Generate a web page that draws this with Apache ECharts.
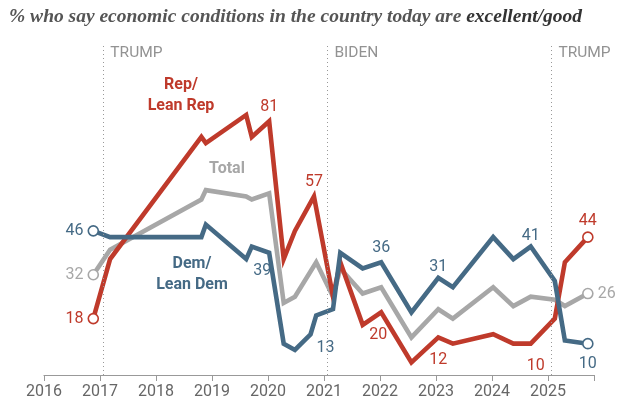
<!DOCTYPE html>
<html>
<head>
<meta charset="utf-8">
<script src="https://cdn.jsdelivr.net/npm/echarts@6/dist/echarts.min.js"></script>
<style>
  html, body { margin: 0; padding: 0; background: #fff; }
  #chart { width: 640px; height: 400px; }
</style>
</head>
<body>
<div id="chart"></div>
<script>
// survey dates as decimal years
const dates = [2016.88, 2017.18, 2018.81, 2018.89, 2019.61, 2019.71, 2020.02, 2020.28, 2020.48,
  2020.76, 2020.82, 2020.86, 2021.16, 2021.29, 2021.69, 2022.02, 2022.56, 2023.04, 2023.30,
  2024.02, 2024.38, 2024.69, 2025.12, 2025.30, 2025.71];
const rep = [18, 37, 76, 74, 83, 76, 81, 37, 46, null, 57, null, 25, 36, 16, 20, 4, 12, 10, 13, 10, 10, 18, 36, 44];
const total = [32, 40, 56, 59, 57, 56, 58, 23, 25, null, null, 36, 25, 34, 26, 28, 12, 21, 18, 28, 22, 25, 24, 22, 26];
const dem = [46, 44, 44, 48, 37, 41, 39, 10, 8, 13, null, 19, 21, 39, 34, 36, 20, 31, 28, 44, 37, 41, 30, 11, 10];
const years = [2016, 2017, 2018, 2019, 2020, 2021, 2022, 2023, 2024, 2025];
const presidents = ["TRUMP", "BIDEN", "TRUMP"];
const inaugurations = [2017.06, 2021.06, 2025.06];

const RED = "#bf3a2b";
const BLUE = "#456a85";
const GRAY = "#a7a7a7";
const NUM_FONT = "Roboto";

// which points get a number label, and where
const repLabels = { 0: ["left"], 6: ["top"], 10: ["top"], 15: ["bottom", [-3, 9]], 17: ["bottom", [0, 9]], 21: ["bottom", [5, 8]], 24: ["top", [0, 2]] };
const totalLabels = { 0: ["left"], 24: ["right"] };
const demLabels = { 0: ["left"], 6: ["bottom", [-7, 4]], 9: ["right", [0, 14]], 15: ["top"], 17: ["top", [0, 3]], 21: ["top", [0, 3]], 24: ["bottom", [0, 3]] };

function build(vals, labels, color) {
  const out = [];
  const last = vals.length - 1;
  vals.forEach((v, i) => {
    if (v == null) return;
    const item = { value: [dates[i], v] };
    const end = i === 0 || i === last;
    item.symbolSize = end ? 10 : 0;
    if (labels[i]) {
      item.label = {
        show: true,
        position: labels[i][0],
        offset: labels[i][1] || [0, 0],
        distance: end ? 4 : 6,
      };
    }
    out.push(item);
  });
  return {
    type: "line",
    data: out,
    symbol: "circle",
    showSymbol: true,
    lineStyle: { color, width: 4.6, join: "miter" },
    itemStyle: { color: "#fff", borderColor: color, borderWidth: 1.6 },
    label: { show: false, color, fontFamily: NUM_FONT, fontSize: 16, formatter: (p) => p.value[1] },
    emphasis: { disabled: true },
  };
}

const chart = echarts.init(document.getElementById("chart"));

const grayS = build(total, totalLabels, GRAY);
grayS.markLine = {
  silent: true,
  symbol: "none",
  label: { show: false },
  lineStyle: { color: "#999", type: [1, 3], width: 1 },
  data: inaugurations.map((d) => ({ xAxis: d })),
};

const nameFont = "bold 16px Roboto";

chart.setOption({
  animation: false,
  title: {
    left: 4,
    top: 2,
    text: "{a|% who say economic conditions in the country today are }{b|excellent/good}",
    textStyle: {
      rich: {
        a: { fontFamily: "Liberation Serif", fontStyle: "italic", fontSize: 19.5, color: "#555" },
        b: { fontFamily: "Liberation Serif", fontStyle: "italic", fontWeight: "bold", fontSize: 19.5, color: "#333" },
      },
    },
  },
  grid: { left: 44, right: 46, top: 46, bottom: 22 },
  xAxis: {
    type: "value",
    min: 2016,
    max: 2025.82,
    interval: 1,
    axisLine: { lineStyle: { color: "#999", width: 1.2 } },
    axisTick: { show: true, length: 6, lineStyle: { color: "#999" } },
    axisLabel: {
      color: "#666",
      fontFamily: NUM_FONT,
      fontSize: 16,
      margin: 9,
      formatter: (v) => (years.includes(v) ? String(v) : ""),
    },
    splitLine: { show: false },
  },
  yAxis: { type: "value", min: 0, max: 105, show: false },
  graphic: [
    { type: "text", x: 181, y: 74, style: { text: "Rep/\nLean Rep", fill: RED, font: nameFont, align: "center", lineHeight: 21 } },
    { type: "text", x: 227, y: 161, style: { text: "Total", fill: GRAY, font: nameFont, align: "center" } },
    { type: "text", x: 192, y: 253, style: { text: "Dem/\nLean Dem", fill: BLUE, font: nameFont, align: "center", lineHeight: 21 } },
  ],
  series: [
    grayS,
    build(rep, repLabels, RED),
    build(dem, demLabels, BLUE),
    {
      type: "scatter",
      symbolSize: 0,
      silent: true,
      data: inaugurations.map((d, i) => ({ value: [d, 102.6], name: presidents[i] })),
      label: {
        show: true,
        position: "right",
        distance: 7,
        formatter: (p) => p.name,
        color: "#777",
        fontFamily: NUM_FONT,
        fontSize: 15.5,
      },
    },
  ],
});
</script>
</body>
</html>
